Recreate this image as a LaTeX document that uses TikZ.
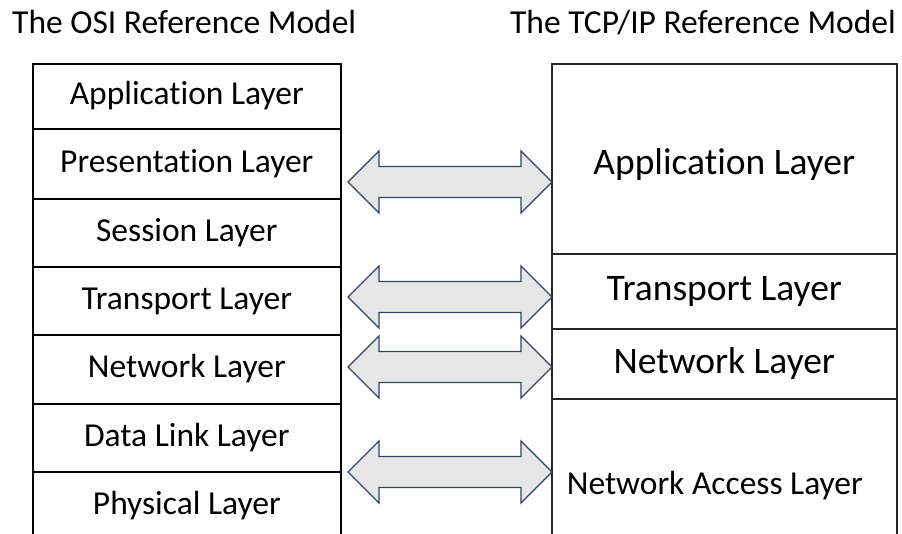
\documentclass[tikz,border=0pt]{standalone}
\usepackage{fontspec}
\setmainfont[RawFeature={-liga}]{Carlito}
\definecolor{arrowfill}{RGB}{231,230,230}
\definecolor{arrowline}{RGB}{47,68,104}
\begin{document}
\begin{tikzpicture}[x=1pt,y=-1pt,
  title/.style={inner sep=0pt, font=\fontsize{33.5}{38}\selectfont},
  osirow/.style={draw=black, line width=1.6pt, rectangle, anchor=north west, inner sep=0pt,
    minimum width=308pt, font=\fontsize{33.5}{38}\selectfont,
    text height=25.1pt, text depth=8.4pt},
  tcprow/.style={draw=black!85, line width=1.6pt, rectangle, anchor=north west, inner sep=0pt,
    minimum width=345pt, font=\fontsize{37.5}{42}\selectfont,
    text height=28.1pt, text depth=9.4pt},
  blockarrow/.style={draw=arrowline, fill=arrowfill, line width=1.3pt, line join=miter}
]
\useasboundingbox (0,0) rectangle (902,533);
\clip (0,0) rectangle (902,533);

% titles
\node[title, anchor=base west] (osititle) at (12,33) {The OSI Reference Model};
\node[title, anchor=base east] (tcptitle) at (896,33) {The TCP/IP Reference Model};

% OSI layers
\node[osirow, minimum height=65pt] (o1) at (32,63)  {Application Layer};
\node[osirow, minimum height=70pt] (o2) at (32,128) {Presentation Layer};
\node[osirow, minimum height=68pt] (o3) at (32,198) {Session Layer};
\node[osirow, minimum height=68pt] (o4) at (32,266) {Transport Layer};
\node[osirow, minimum height=69pt] (o5) at (32,334) {Network Layer};
\node[osirow, minimum height=68pt] (o6) at (32,403) {Data Link Layer};
\node[osirow, minimum height=69pt] (o7) at (32,471) {Physical Layer};

% TCP/IP layers
\node[tcprow, minimum height=190pt, text height=41.3pt] (t1) at (551,63)  {Application Layer};
\node[tcprow, minimum height=75pt]  (t2) at (551,253) {Transport Layer};
\node[tcprow, minimum height=70pt]  (t3) at (551,328) {Network Layer};
\node[tcprow, minimum height=174pt, font=\fontsize{33.5}{40}\selectfont,
      text height=25.1pt, text depth=8.4pt] (t4) at (551,398)
  {\hspace*{-19pt}Network Access Layer};

% double block arrows between the models
\foreach \n/\y in {1/182, 2/297, 3/367, 4/472}{
  \coordinate (a\n) at (348,\y);
  \draw[blockarrow] (a\n) -- ++(31,-31) -- ++(0,15.5) -- ++(142,0) -- ++(0,-15.5)
    -- ++(31,31) -- ++(-31,31) -- ++(0,-15.5) -- ++(-142,0) -- ++(0,15.5) -- cycle;
}
\end{tikzpicture}
\end{document}
